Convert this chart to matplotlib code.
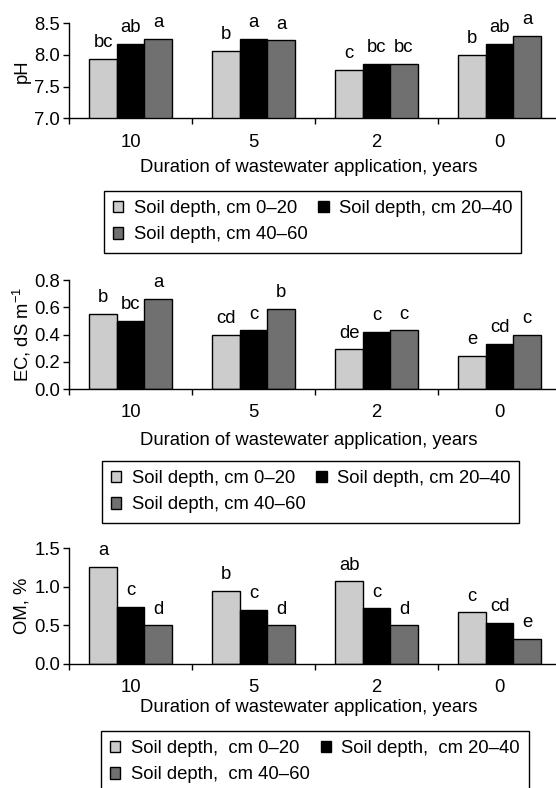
import numpy as np
import matplotlib
matplotlib.use('Agg')
import matplotlib.pyplot as plt
from matplotlib.patches import Patch

plt.rcParams['font.family'] = ['Liberation Sans', 'DejaVu Sans']
plt.rcParams['mathtext.fontset'] = 'custom'
plt.rcParams['mathtext.rm'] = 'Liberation Sans'
plt.rcParams['mathtext.it'] = 'Liberation Sans:italic'
plt.rcParams['font.size'] = 13.3

# data
years = ['10', '5', '2', '0']
depths = ['0\u201320', '20\u201340', '40\u201360']
colors = ['#cccccc', '#000000', '#707070']

ph_vals = [[7.94, 8.07, 7.76, 8.00],
           [8.17, 8.25, 7.86, 8.17],
           [8.25, 8.23, 7.86, 8.30]]
ph_lett = [['bc', 'b', 'c', 'b'],
           ['ab', 'a', 'bc', 'ab'],
           ['a', 'a', 'bc', 'a']]

ec_vals = [[0.55, 0.40, 0.29, 0.24],
           [0.50, 0.43, 0.42, 0.33],
           [0.66, 0.59, 0.43, 0.40]]
ec_lett = [['b', 'cd', 'de', 'e'],
           ['bc', 'c', 'c', 'cd'],
           ['a', 'b', 'c', 'c']]

om_vals = [[1.26, 0.95, 1.07, 0.67],
           [0.74, 0.70, 0.72, 0.53],
           [0.50, 0.50, 0.50, 0.33]]
om_lett = [['a', 'b', 'ab', 'c'],
           ['c', 'c', 'c', 'cd'],
           ['d', 'd', 'd', 'e']]

W, H = 556, 788
fig = plt.figure(figsize=(W / 100, H / 100), dpi=100)

# axes boxes in pixels: top, bottom
ax_w = 492
panels = [
    dict(top=23.3, bot=118.3, vals=ph_vals, lett=ph_lett, ylim=(7.0, 8.5), step=0.5,
         ylabel='pH', xl_y=168, leg=(104, 191), sep=', cm '),
    dict(top=280, bot=389, vals=ec_vals, lett=ec_lett, ylim=(0.0, 0.8), step=0.2,
         ylabel=r'EC, dS m$^{-1}$', xl_y=440, leg=(102, 461), sep=', cm '),
    dict(top=548.3, bot=664, vals=om_vals, lett=om_lett, ylim=(0.0, 1.5), step=0.5,
         ylabel='OM, %', xl_y=708, leg=(101, 731), sep=',  cm '),
]

bw = 0.223
x = np.arange(len(years))

for p in panels:
    h = p['bot'] - p['top']
    ax = fig.add_axes([69 / W, 1 - p['bot'] / H, ax_w / W, h / H])
    handles = []
    for i in range(3):
        bars = ax.bar(x + (i - 1) * bw, p['vals'][i], bw, bottom=0,
                      color=colors[i], edgecolor='black', linewidth=1.0)
        for b, v, t in zip(bars, p['vals'][i], p['lett'][i]):
            ax.annotate(t, (b.get_x() + b.get_width() / 2, v), xytext=(0, 8.5),
                        textcoords='offset points', ha='center', va='baseline')
        handles.append(Patch(facecolor=colors[i], edgecolor='black', linewidth=1.0,
                             label='Soil depth' + p['sep'] + depths[i]))
    ax.set_ylim(*p['ylim'])
    ax.set_xlim(-0.5, 3.5)
    ax.set_yticks(np.arange(p['ylim'][0], p['ylim'][1] + 1e-9, p['step']))
    ax.yaxis.set_major_formatter(matplotlib.ticker.FormatStrFormatter('%.1f'))
    ax.set_xticks(x)
    ax.set_xticklabels(years)
    ax.set_xticks(np.arange(-0.5, 4, 1.0), minor=True)
    ax.tick_params(axis='x', which='major', length=0, pad=11)
    ax.tick_params(axis='x', which='minor', length=4.5, width=1)
    ax.tick_params(axis='y', length=4.5, width=1, pad=2)
    for s in ['top', 'right']:
        ax.spines[s].set_visible(False)
    for s in ['left', 'bottom']:
        ax.spines[s].set_linewidth(1)
    ax.set_xlabel('Duration of wastewater application, years')
    ax.xaxis.label.set_va('center')
    ax.xaxis.set_label_coords((308.5 - 69) / ax_w, -(p['xl_y'] - p['bot']) / h)
    ax.set_ylabel(p['ylabel'])
    ax.yaxis.label.set_va('center')
    ax.yaxis.set_label_coords((22 - 69) / ax_w, 0.5)

    # legend fills by column, so reorder to get 0-20, 20-40 on the first row
    order = [0, 2, 1]
    lx, ly = p['leg']
    leg = fig.legend(handles=[handles[k] for k in order], loc='upper left',
                     bbox_to_anchor=(lx / W, 1 - ly / H),
                     ncol=2, frameon=True, fancybox=False, shadow=False, framealpha=1,
                     edgecolor='black', borderpad=0.5, handlelength=0.55, handleheight=0.55,
                     handletextpad=0.55, columnspacing=0.6, labelspacing=0.5,
                     borderaxespad=0)
    leg.get_frame().set_linewidth(1)

fig.savefig('out.png', dpi=100)
